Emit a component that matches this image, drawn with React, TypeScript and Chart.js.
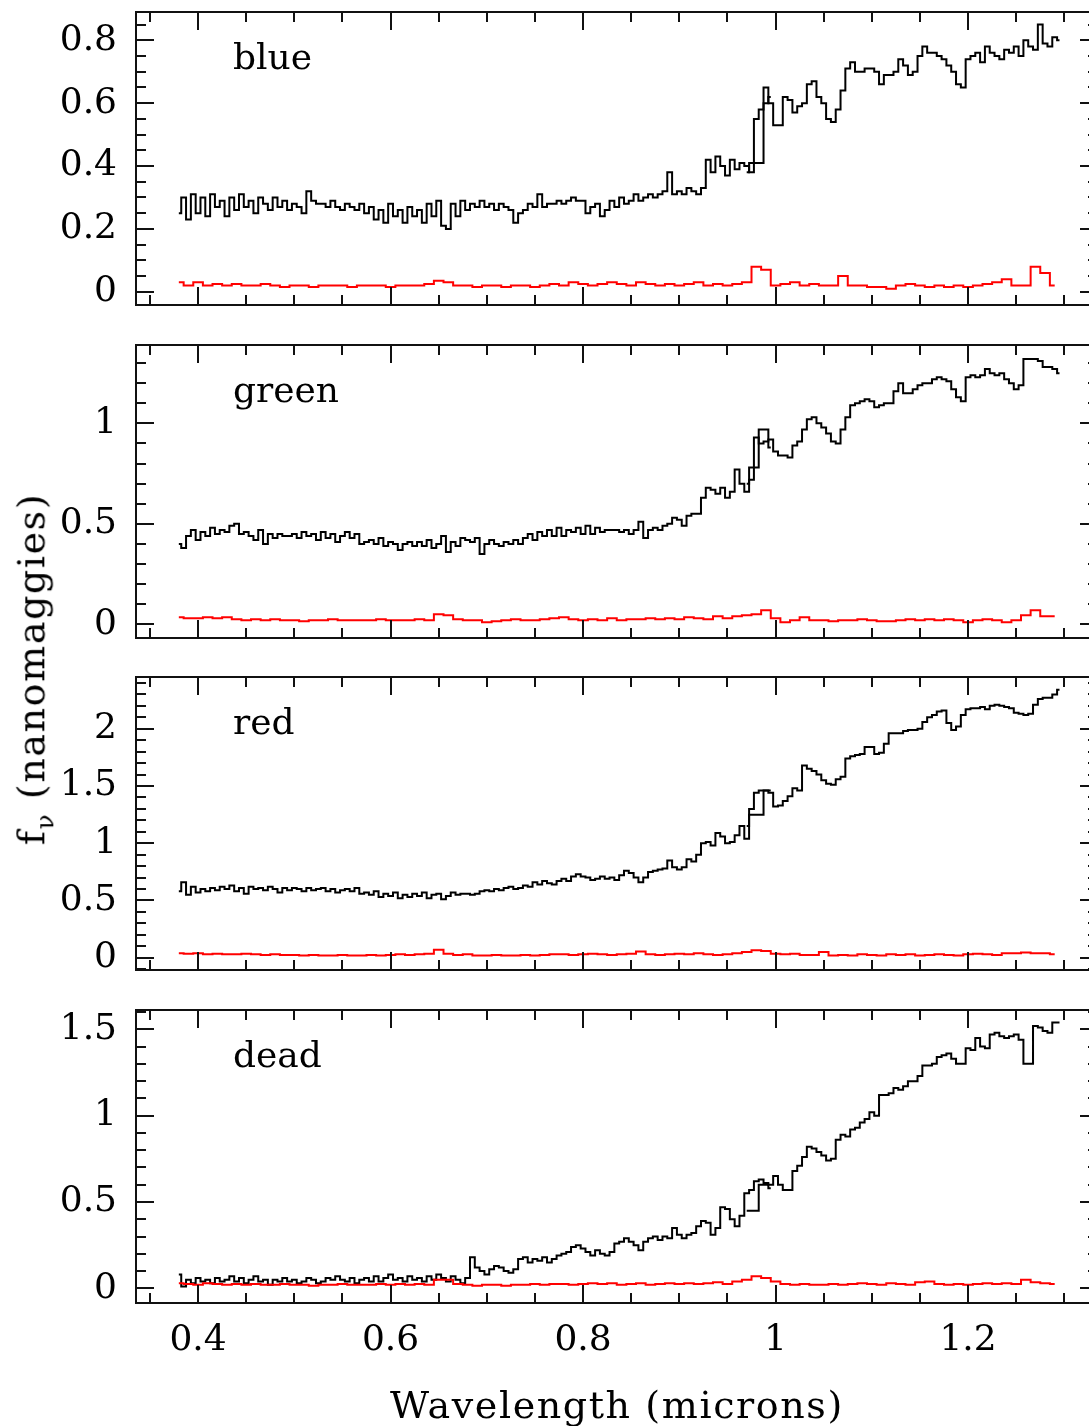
import React, { useEffect, useRef } from "react";
import { Chart, registerables } from "chart.js";

Chart.register(...registerables);

// ---------- data ----------
// flux samples start at 0.380 micron, one every 0.005 micron
const FLUX_START = 0.38;
const FLUX_STEP = 0.005;
// error samples start at 0.38 micron, one every 0.01 micron
const ERR_START = 0.38;
const ERR_STEP = 0.01;
// short second-arm overlap segment
const OVERLAP_WAVELENGTH = [0.97, 0.975, 0.98, 0.985, 0.99, 0.995];

const BLUE_FLUX = [
  0.25, 0.30, 0.23, 0.31, 0.25, 0.30, 0.24, 0.31, 0.27, 0.29,
  0.24, 0.30, 0.26, 0.31, 0.27, 0.29, 0.25, 0.30, 0.28, 0.26,
  0.30, 0.27, 0.29, 0.26, 0.28, 0.27, 0.25, 0.32, 0.29, 0.28,
  0.28, 0.27, 0.29, 0.27, 0.26, 0.28, 0.27, 0.26, 0.28, 0.25,
  0.27, 0.23, 0.26, 0.22, 0.28, 0.24, 0.26, 0.22, 0.27, 0.24,
  0.26, 0.22, 0.28, 0.24, 0.29, 0.21, 0.20, 0.28, 0.24, 0.29,
  0.26, 0.28, 0.27, 0.29, 0.27, 0.28, 0.26, 0.28, 0.27, 0.26,
  0.22, 0.25, 0.26, 0.28, 0.27, 0.31, 0.27, 0.28, 0.28, 0.29,
  0.28, 0.29, 0.30, 0.29, 0.29, 0.25, 0.27, 0.28, 0.24, 0.26,
  0.29, 0.27, 0.30, 0.28, 0.29, 0.31, 0.29, 0.30, 0.31, 0.30,
  0.31, 0.32, 0.38, 0.31, 0.32, 0.31, 0.33, 0.32, 0.31, 0.33,
  0.42, 0.38, 0.43, 0.40, 0.37, 0.42, 0.39, 0.41, 0.40, 0.38,
  0.55, 0.58, 0.65, 0.60, 0.53, 0.53, 0.62, 0.61, 0.57, 0.59,
  0.60, 0.66, 0.67, 0.62, 0.60, 0.55, 0.54, 0.58, 0.64, 0.71,
  0.73, 0.70, 0.70, 0.71, 0.71, 0.70, 0.66, 0.69, 0.69, 0.70,
  0.74, 0.72, 0.69, 0.70, 0.75, 0.78, 0.76, 0.76, 0.75, 0.74,
  0.72, 0.70, 0.66, 0.65, 0.74, 0.75, 0.76, 0.73, 0.78, 0.76,
  0.75, 0.74, 0.77, 0.76, 0.78, 0.75, 0.80, 0.78, 0.77, 0.85,
  0.79, 0.78, 0.81, 0.80,
];
const BLUE_ERR = [
  0.03, 0.02, 0.03, 0.02, 0.025, 0.02, 0.025, 0.02, 0.02, 0.025,
  0.02, 0.015, 0.02, 0.02, 0.015, 0.02, 0.02, 0.02, 0.015, 0.02,
  0.02, 0.02, 0.015, 0.02, 0.02, 0.02, 0.025, 0.035, 0.03, 0.02,
  0.02, 0.015, 0.02, 0.02, 0.015, 0.02, 0.02, 0.015, 0.02, 0.025,
  0.02, 0.03, 0.025, 0.02, 0.025, 0.03, 0.025, 0.02, 0.03, 0.025,
  0.02, 0.025, 0.02, 0.025, 0.03, 0.02, 0.025, 0.02, 0.025, 0.03,
  0.08, 0.07, 0.02, 0.025, 0.03, 0.02, 0.025, 0.02, 0.02, 0.05,
  0.02, 0.02, 0.015, 0.015, 0.01, 0.02, 0.025, 0.02, 0.015, 0.02,
  0.015, 0.02, 0.015, 0.02, 0.025, 0.03, 0.04, 0.02, 0.02, 0.08,
  0.06, 0.02,
];
const BLUE_OVERLAP = [0.38, 0.41, 0.41, 0.41, 0.60, 0.62];

const GREEN_FLUX = [
  0.40, 0.38, 0.44, 0.47, 0.42, 0.46, 0.44, 0.48, 0.45, 0.47,
  0.46, 0.49, 0.50, 0.45, 0.46, 0.44, 0.42, 0.47, 0.40, 0.45,
  0.43, 0.45, 0.44, 0.44, 0.45, 0.43, 0.46, 0.44, 0.45, 0.42,
  0.46, 0.43, 0.45, 0.41, 0.44, 0.46, 0.43, 0.45, 0.40, 0.41,
  0.42, 0.40, 0.43, 0.39, 0.41, 0.40, 0.37, 0.40, 0.41, 0.39,
  0.41, 0.39, 0.42, 0.38, 0.40, 0.44, 0.36, 0.41, 0.39, 0.43,
  0.42, 0.41, 0.43, 0.35, 0.40, 0.42, 0.40, 0.39, 0.41, 0.40,
  0.42, 0.40, 0.43, 0.45, 0.42, 0.46, 0.44, 0.47, 0.44, 0.48,
  0.44, 0.47, 0.46, 0.48, 0.45, 0.49, 0.45, 0.48, 0.46, 0.47,
  0.47, 0.47, 0.46, 0.47, 0.45, 0.47, 0.51, 0.43, 0.47, 0.48,
  0.47, 0.49, 0.50, 0.53, 0.52, 0.49, 0.54, 0.55, 0.55, 0.63,
  0.68, 0.67, 0.65, 0.68, 0.63, 0.66, 0.77, 0.70, 0.66, 0.72,
  0.93, 0.90, 0.91, 0.92, 0.86, 0.84, 0.84, 0.83, 0.89, 0.91,
  0.97, 1.02, 1.03, 1.00, 0.98, 0.95, 0.91, 0.90, 0.97, 1.03,
  1.09, 1.10, 1.11, 1.12, 1.11, 1.08, 1.09, 1.10, 1.10, 1.16,
  1.20, 1.15, 1.15, 1.17, 1.19, 1.20, 1.20, 1.22, 1.23, 1.22,
  1.21, 1.17, 1.13, 1.11, 1.23, 1.24, 1.23, 1.24, 1.27, 1.25,
  1.24, 1.25, 1.22, 1.20, 1.17, 1.19, 1.32, 1.32, 1.32, 1.31,
  1.28, 1.28, 1.27, 1.25,
];
const GREEN_ERR = [
  0.035, 0.03, 0.03, 0.035, 0.03, 0.035, 0.025, 0.02, 0.025, 0.02,
  0.025, 0.02, 0.02, 0.015, 0.02, 0.02, 0.025, 0.02, 0.02, 0.02,
  0.02, 0.025, 0.02, 0.02, 0.02, 0.025, 0.02, 0.05, 0.045, 0.025,
  0.02, 0.02, 0.01, 0.015, 0.02, 0.025, 0.02, 0.02, 0.025, 0.03,
  0.035, 0.025, 0.02, 0.025, 0.02, 0.03, 0.02, 0.025, 0.025, 0.03,
  0.025, 0.03, 0.025, 0.035, 0.03, 0.025, 0.04, 0.03, 0.04, 0.045,
  0.05, 0.07, 0.03, 0.01, 0.02, 0.035, 0.02, 0.02, 0.015, 0.02,
  0.02, 0.025, 0.02, 0.015, 0.015, 0.02, 0.025, 0.02, 0.025, 0.02,
  0.025, 0.02, 0.01, 0.02, 0.025, 0.02, 0.01, 0.02, 0.045, 0.07,
  0.04, 0.04,
];
const GREEN_OVERLAP = [0.70, 0.78, 0.78, 0.97, 0.97, 0.88];

const RED_FLUX = [
  0.58, 0.66, 0.55, 0.62, 0.57, 0.60, 0.58, 0.61, 0.59, 0.62,
  0.60, 0.63, 0.58, 0.61, 0.56, 0.62, 0.60, 0.61, 0.59, 0.62,
  0.60, 0.57, 0.61, 0.59, 0.61, 0.60, 0.58, 0.61, 0.59, 0.60,
  0.61, 0.58, 0.60, 0.57, 0.59, 0.60, 0.58, 0.61, 0.56, 0.57,
  0.55, 0.58, 0.53, 0.56, 0.54, 0.57, 0.52, 0.55, 0.53, 0.56,
  0.54, 0.57, 0.52, 0.55, 0.56, 0.51, 0.54, 0.57, 0.55, 0.56,
  0.56, 0.55, 0.56, 0.58, 0.59, 0.58, 0.60, 0.59, 0.61, 0.62,
  0.60, 0.61, 0.63, 0.62, 0.66, 0.64, 0.67, 0.65, 0.64, 0.67,
  0.69, 0.67, 0.71, 0.73, 0.71, 0.70, 0.68, 0.69, 0.71, 0.69,
  0.70, 0.68, 0.72, 0.76, 0.74, 0.70, 0.66, 0.70, 0.75, 0.76,
  0.77, 0.78, 0.85, 0.79, 0.77, 0.79, 0.86, 0.84, 0.90, 1.00,
  1.01, 0.98, 1.09, 1.06, 1.00, 1.01, 1.07, 1.15, 1.04, 1.30,
  1.44, 1.46, 1.46, 1.44, 1.32, 1.33, 1.37, 1.41, 1.48, 1.46,
  1.68, 1.65, 1.63, 1.60, 1.55, 1.52, 1.51, 1.56, 1.58, 1.74,
  1.76, 1.77, 1.78, 1.84, 1.84, 1.78, 1.79, 1.87, 1.96, 1.96,
  1.96, 1.98, 1.99, 1.99, 2.00, 2.06, 2.10, 2.12, 2.15, 2.16,
  2.05, 1.99, 2.02, 2.12, 2.17, 2.18, 2.18, 2.19, 2.17, 2.20,
  2.21, 2.20, 2.19, 2.18, 2.14, 2.13, 2.12, 2.13, 2.21, 2.26,
  2.27, 2.27, 2.30, 2.34,
];
const RED_ERR = [
  0.04, 0.035, 0.04, 0.03, 0.035, 0.03, 0.03, 0.035, 0.03, 0.025,
  0.03, 0.025, 0.025, 0.02, 0.025, 0.02, 0.02, 0.025, 0.02, 0.02,
  0.025, 0.02, 0.025, 0.03, 0.025, 0.03, 0.035, 0.07, 0.035, 0.025,
  0.03, 0.02, 0.02, 0.025, 0.02, 0.02, 0.025, 0.02, 0.025, 0.03,
  0.03, 0.025, 0.03, 0.035, 0.03, 0.025, 0.03, 0.035, 0.055, 0.03,
  0.025, 0.03, 0.035, 0.03, 0.04, 0.03, 0.025, 0.03, 0.04, 0.05,
  0.065, 0.06, 0.035, 0.03, 0.035, 0.025, 0.025, 0.05, 0.02, 0.025,
  0.02, 0.03, 0.025, 0.02, 0.03, 0.025, 0.03, 0.02, 0.025, 0.03,
  0.025, 0.02, 0.03, 0.035, 0.03, 0.025, 0.04, 0.04, 0.045, 0.04,
  0.04, 0.03,
];
const RED_OVERLAP = [1.15, 1.25, 1.25, 1.25, 1.46, 1.46];

const DEAD_FLUX = [
  0.08, 0.01, 0.05, 0.03, 0.06, 0.04, 0.05, 0.03, 0.06, 0.04,
  0.05, 0.07, 0.04, 0.06, 0.03, 0.05, 0.07, 0.04, 0.05, 0.02,
  0.05, 0.04, 0.06, 0.04, 0.05, 0.03, 0.04, 0.06, 0.05, 0.03,
  0.04, 0.06, 0.05, 0.07, 0.05, 0.04, 0.06, 0.03, 0.05, 0.06,
  0.04, 0.07, 0.04, 0.06, 0.08, 0.05, 0.06, 0.04, 0.07, 0.05,
  0.06, 0.04, 0.07, 0.05, 0.08, 0.06, 0.04, 0.07, 0.05, 0.03,
  0.06, 0.18, 0.12, 0.10, 0.08, 0.11, 0.13, 0.12, 0.10, 0.09,
  0.11, 0.17, 0.18, 0.15, 0.17, 0.16, 0.18, 0.15, 0.17, 0.19,
  0.20, 0.21, 0.24, 0.25, 0.23, 0.21, 0.19, 0.22, 0.20, 0.19,
  0.21, 0.26, 0.27, 0.29, 0.27, 0.25, 0.22, 0.27, 0.29, 0.30,
  0.28, 0.30, 0.29, 0.35, 0.31, 0.29, 0.31, 0.32, 0.36, 0.39,
  0.38, 0.31, 0.35, 0.47, 0.46, 0.40, 0.36, 0.42, 0.55, 0.57,
  0.62, 0.63, 0.61, 0.60, 0.65, 0.60, 0.57, 0.57, 0.68, 0.71,
  0.76, 0.82, 0.81, 0.79, 0.77, 0.74, 0.75, 0.86, 0.89, 0.88,
  0.92, 0.93, 0.96, 0.98, 1.02, 1.00, 1.12, 1.12, 1.13, 1.16,
  1.15, 1.17, 1.20, 1.20, 1.23, 1.29, 1.29, 1.30, 1.34, 1.35,
  1.36, 1.33, 1.30, 1.30, 1.39, 1.38, 1.45, 1.40, 1.39, 1.47,
  1.48, 1.46, 1.45, 1.46, 1.47, 1.44, 1.30, 1.30, 1.52, 1.51,
  1.49, 1.48, 1.54, 1.54,
];
const DEAD_ERR = [
  0.03, 0.025, 0.02, 0.03, 0.025, 0.02, 0.025, 0.02, 0.025, 0.02,
  0.02, 0.025, 0.02, 0.02, 0.015, 0.02, 0.02, 0.025, 0.02, 0.02,
  0.02, 0.025, 0.02, 0.025, 0.02, 0.025, 0.02, 0.05, 0.05, 0.025,
  0.02, 0.015, 0.02, 0.02, 0.015, 0.02, 0.02, 0.025, 0.02, 0.025,
  0.025, 0.02, 0.025, 0.03, 0.025, 0.03, 0.02, 0.025, 0.03, 0.02,
  0.025, 0.03, 0.025, 0.03, 0.025, 0.03, 0.035, 0.025, 0.04, 0.05,
  0.07, 0.06, 0.04, 0.025, 0.02, 0.025, 0.02, 0.02, 0.025, 0.02,
  0.025, 0.03, 0.025, 0.02, 0.03, 0.025, 0.02, 0.035, 0.04, 0.025,
  0.02, 0.025, 0.02, 0.025, 0.03, 0.025, 0.03, 0.025, 0.05, 0.035,
  0.03, 0.025,
];
const DEAD_OVERLAP = [0.45, 0.45, 0.45, 0.60, 0.60, 0.58];

const X_TICKS = [0.4, 0.6, 0.8, 1.0, 1.2];
const BLUE_Y_TICKS = [0, 0.2, 0.4, 0.6, 0.8];
const GREEN_Y_TICKS = [0, 0.5, 1];
const RED_Y_TICKS = [0, 0.5, 1, 1.5, 2];
const DEAD_Y_TICKS = [0, 0.5, 1, 1.5];

const X_TITLE = "Wavelength (microns)";
const Y_TITLE = "(nanomaggies)";

// ---------- layout ----------
const X_MIN = 0.3355;
const X_MAX = 1.335;
const X_MINOR = 0.05;
const CANVAS_W = 1110;
const PLOT_LEFT = 136;
const PLOT_RIGHT = 1098;
const PLOT_H = 293;
const PAD = 12;
const MAJOR_LEN = 18;
const MINOR_LEN = 10;
const FONT = '"DejaVu Serif", "Liberation Serif", serif';

const PANELS = [
  { name: "blue", flux: BLUE_FLUX, err: BLUE_ERR, overlap: BLUE_OVERLAP, yMin: -0.042, yMax: 0.89, yTicks: BLUE_Y_TICKS, yMinor: 0.05, top: 12 },
  { name: "green", flux: GREEN_FLUX, err: GREEN_ERR, overlap: GREEN_OVERLAP, yMin: -0.068, yMax: 1.39, yTicks: GREEN_Y_TICKS, yMinor: 0.1, top: 345 },
  { name: "red", flux: RED_FLUX, err: RED_ERR, overlap: RED_OVERLAP, yMin: -0.107, yMax: 2.452, yTicks: RED_Y_TICKS, yMinor: 0.1, top: 677 },
  { name: "dead", flux: DEAD_FLUX, err: DEAD_ERR, overlap: DEAD_OVERLAP, yMin: -0.085, yMax: 1.612, yTicks: DEAD_Y_TICKS, yMinor: 0.1, top: 1010 },
];

const toPoints = (start: number, step: number, values: number[]) =>
  values.map((y, i) => ({ x: +(start + step * i).toFixed(3), y }));

const fmt = (v: number) => String(Math.round(v * 1000) / 1000);

function Panel({ panel, isBottom }: { panel: any; isBottom: boolean }) {
  const ref = useRef<HTMLCanvasElement>(null);
  const canvasTop = panel.top - PAD;
  const canvasH = isBottom ? 1426 - canvasTop : PLOT_H + 2 * PAD;

  useEffect(() => {
    const framePlugin = {
      id: "frameTicks",
      afterDatasetsDraw(chart: any) {
        const { ctx, chartArea: a, scales } = chart;
        const xs = scales.x;
        const ys = scales.y;
        ctx.save();
        ctx.strokeStyle = "#111";
        ctx.lineWidth = 2;
        ctx.strokeRect(a.left, a.top, a.right - a.left, a.bottom - a.top);
        ctx.beginPath();
        for (let k = Math.ceil(X_MIN / X_MINOR - 1e-9); k * X_MINOR <= X_MAX + 1e-9; k++) {
          const v = k * X_MINOR;
          const major = X_TICKS.some((t) => Math.abs(t - v) < 1e-6);
          const len = major ? MAJOR_LEN : MINOR_LEN;
          const px = Math.round(xs.getPixelForValue(v));
          ctx.moveTo(px, a.bottom);
          ctx.lineTo(px, a.bottom - len);
          ctx.moveTo(px, a.top);
          ctx.lineTo(px, a.top + len);
        }
        const step = panel.yMinor;
        for (let k = Math.ceil(panel.yMin / step - 1e-9); k * step <= panel.yMax + 1e-9; k++) {
          const v = k * step;
          const major = panel.yTicks.some((t: number) => Math.abs(t - v) < 1e-6);
          const len = major ? MAJOR_LEN : MINOR_LEN;
          const py = Math.round(ys.getPixelForValue(v));
          ctx.moveTo(a.left, py);
          ctx.lineTo(a.left + len, py);
          ctx.moveTo(a.right, py);
          ctx.lineTo(a.right - len, py);
        }
        ctx.stroke();
        ctx.fillStyle = "#000";
        ctx.font = `36px ${FONT}`;
        ctx.textAlign = "left";
        ctx.textBaseline = "alphabetic";
        ctx.fillText(panel.name, a.left + 97, a.top + 57);
        if (isBottom) {
          ctx.font = `38px ${FONT}`;
          (ctx as any).letterSpacing = "1.6px";
          ctx.textAlign = "center";
          ctx.fillText(X_TITLE, (a.left + a.right) / 2, a.bottom + 115);
        }
        ctx.restore();
      },
    };

    const xScale: any = {
      type: "linear",
      min: X_MIN,
      max: X_MAX,
      display: isBottom,
      grid: { display: false, drawTicks: false },
      border: { display: false },
      ticks: {
        autoSkip: false,
        maxRotation: 0,
        padding: 16,
        color: "#000",
        font: { family: FONT, size: 36 },
        callback: (v: any) => fmt(Number(v)),
      },
      afterBuildTicks: (s: any) => {
        s.ticks = X_TICKS.map((value) => ({ value }));
      },
      afterFit: (s: any) => {
        s.paddingLeft = 0;
        s.paddingRight = 0;
        s.paddingTop = 0;
        s.paddingBottom = 0;
        if (isBottom) s.height = canvasH - PAD - PLOT_H;
      },
    };

    const chart = new Chart(ref.current as HTMLCanvasElement, {
      type: "line",
      data: {
        datasets: [
          {
            data: toPoints(ERR_START, ERR_STEP, panel.err),
            borderColor: "#ff0000",
            borderWidth: 2,
            pointRadius: 0,
            stepped: "middle",
            fill: false,
          },
          {
            data: OVERLAP_WAVELENGTH.map((x, i) => ({ x, y: panel.overlap[i] })),
            borderColor: "#000",
            borderWidth: 2,
            pointRadius: 0,
            stepped: "middle",
            fill: false,
          },
          {
            data: toPoints(FLUX_START, FLUX_STEP, panel.flux),
            borderColor: "#000",
            borderWidth: 2,
            pointRadius: 0,
            stepped: "middle",
            fill: false,
          },
        ],
      } as any,
      options: {
        responsive: false,
        maintainAspectRatio: false,
        animation: false,
        events: [],
        layout: {
          autoPadding: false,
          padding: { top: PAD, bottom: isBottom ? 0 : PAD, left: 0, right: CANVAS_W - PLOT_RIGHT },
        },
        plugins: { legend: { display: false }, tooltip: { enabled: false }, title: { display: false } },
        scales: {
          x: xScale,
          y: {
            type: "linear",
            min: panel.yMin,
            max: panel.yMax,
            grid: { display: false, drawTicks: false },
            border: { display: false },
            ticks: {
              padding: 19,
              color: "#000",
              font: { family: FONT, size: 36 },
              callback: (v: any) => fmt(Number(v)),
            },
            afterBuildTicks: (s: any) => {
              s.ticks = panel.yTicks.map((value: number) => ({ value }));
            },
            afterFit: (s: any) => {
              s.paddingLeft = 0;
              s.paddingRight = 0;
              s.paddingTop = 0;
              s.paddingBottom = 0;
              s.width = PLOT_LEFT;
            },
          },
        },
      } as any,
      plugins: [framePlugin],
    });
    return () => chart.destroy();
  }, []);

  return (
    <canvas
      ref={ref}
      width={CANVAS_W}
      height={canvasH}
      style={{ position: "absolute", left: 0, top: canvasTop, width: CANVAS_W, height: canvasH }}
    />
  );
}

export default function App() {
  return (
    <div
      style={{
        position: "absolute",
        left: 0,
        top: 0,
        width: 1089,
        height: 1426,
        overflow: "hidden",
        background: "#fff",
      }}
    >
      {PANELS.map((p, i) => (
        <Panel key={p.name} panel={p} isBottom={i === PANELS.length - 1} />
      ))}
      <div
        style={{
          position: "absolute",
          left: 35,
          top: 669,
          transform: "translate(-50%, -50%) rotate(-90deg)",
          whiteSpace: "nowrap",
          fontFamily: FONT,
          fontSize: 38,
          letterSpacing: "1.6px",
          lineHeight: 1,
          color: "#000",
        }}
      >
        f<sub style={{ fontSize: "0.65em", verticalAlign: "-0.35em" }}>ν</sub> {Y_TITLE}
      </div>
    </div>
  );
}
